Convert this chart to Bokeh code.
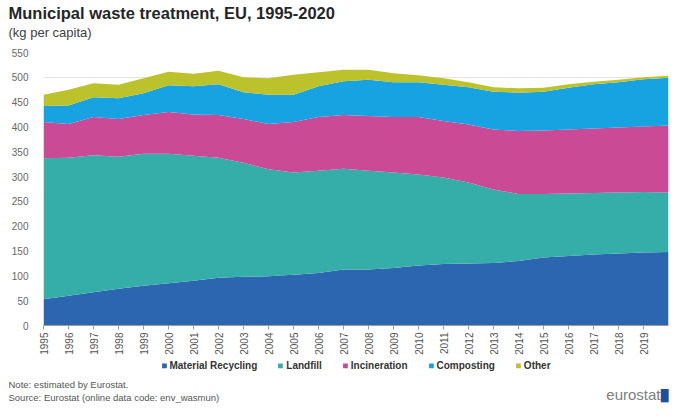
import math
from bokeh.plotting import figure
from bokeh.layouts import column
from bokeh.models import Legend, LegendItem, Title, FixedTicker, Range1d
from bokeh.embed import file_html
from bokeh.resources import INLINE

years = list(range(1995, 2021))
tick_years = list(range(1995, 2020))
material_recycling = [53, 60, 67, 74, 80, 85, 90, 96, 98, 99, 102, 106, 113, 113, 116, 121, 124, 125, 126, 130, 137, 140, 143, 145, 147, 148]
landfill = [284, 278, 276, 266, 266, 261, 252, 242, 230, 216, 206, 206, 203, 199, 192, 183, 174, 163, 148, 135, 128, 126, 124, 123, 122, 120]
incineration = [73, 68, 77, 76, 78, 84, 83, 86, 88, 91, 102, 108, 108, 110, 112, 116, 114, 117, 121, 127, 128, 129, 130, 131, 132, 135]
composting = [32, 37, 40, 42, 44, 54, 57, 62, 54, 59, 55, 62, 68, 73, 70, 70, 73, 75, 76, 77, 78, 84, 89, 91, 95, 96]
other = [23, 32, 28, 27, 30, 27, 25, 27, 30, 33, 40, 28, 23, 20, 18, 14, 13, 10, 9, 9, 8, 7, 5, 5, 4, 4]

series_names = ["Material Recycling", "Landfill", "Incineration", "Composting", "Other"]
colors = ["#2d66b0", "#35aea9", "#cb4a96", "#17a2e2", "#bcc22c"]

FONT = "Liberation Sans"
W = 670
H_MAIN, H_FOOT = 357, 47

data = {"year": years}
keys = ["mr", "lf", "inc", "comp", "oth"]
for k, v in zip(keys, [material_recycling, landfill, incineration, composting, other]):
    data[k] = v

# ---------- main chart (with title block above) ----------
p = figure(width=W, height=H_MAIN, output_backend="svg", toolbar_location=None,
           x_range=Range1d(1995, 2020), y_range=Range1d(0, 550),
           min_border_left=43, min_border_right=2, min_border_top=0, min_border_bottom=30)
p.outline_line_color = None

# nearest the frame first: spacer, subtitle; the figure title sits on top
p.add_layout(Title(text=" ", text_font=FONT, text_font_size="8px", standoff=2), "above")
p.add_layout(Title(text="(kg per capita)", text_font=FONT, text_font_size="13px",
                   text_font_style="normal", text_color="#404040", offset=-35,
                   standoff=0), "above")
p.title.text = "Municipal waste treatment, EU, 1995-2020"
p.title.text_font = FONT
p.title.text_font_size = "16.5px"
p.title.text_font_style = "bold"
p.title.text_color = "#262626"
p.title.offset = -35
p.title.standoff = 2

renderers = p.varea_stack(stackers=keys, x="year", color=colors, source=data)

p.xaxis.ticker = FixedTicker(ticks=tick_years)
p.xaxis.major_label_orientation = math.pi / 2
p.xaxis.major_label_text_font = FONT
p.xaxis.major_label_text_font_size = "10px"
p.xaxis.major_label_text_color = "#555555"
p.xaxis.axis_line_color = "#9a9a9a"
p.xaxis.major_tick_line_color = "#9a9a9a"
p.xaxis.major_tick_in = 0
p.xaxis.major_tick_out = 4
p.xaxis.minor_tick_line_color = None
p.xaxis.major_label_standoff = 3

p.yaxis.ticker = FixedTicker(ticks=list(range(0, 551, 50)))
p.yaxis.major_label_text_font = FONT
p.yaxis.major_label_text_font_size = "10px"
p.yaxis.major_label_text_color = "#666666"
p.yaxis.axis_line_color = None
p.yaxis.major_tick_line_color = None
p.yaxis.minor_tick_line_color = None
p.yaxis.major_label_standoff = 9

p.xgrid.grid_line_color = None
p.ygrid.grid_line_color = "#e3e3e3"
p.ygrid.level = "underlay"

# ---------- footer: legend in frame, notes + logo as titles below ----------
foot = figure(width=W, height=H_FOOT, output_backend="svg", toolbar_location=None,
              x_range=Range1d(0, 1), y_range=Range1d(0, 1),
              x_axis_location=None, y_axis_location=None,
              min_border_left=43, min_border_right=2, min_border_top=0, min_border_bottom=31)
foot.grid.visible = False
foot.outline_line_color = None

# legend swatches reuse the same series (their x values lie outside this frame's range)
swatches = foot.varea_stack(stackers=keys, x="year", color=colors, source=data)
items = [LegendItem(label=n, renderers=[r]) for n, r in zip(series_names, swatches)]
legend = Legend(items=items, orientation="horizontal", location="center",
                label_text_font=FONT, label_text_font_size="10px", label_text_color="#333333",
                label_text_font_style="bold", label_height=10,
                glyph_width=6, glyph_height=6, label_standoff=3, spacing=20,
                border_line_color=None, background_fill_alpha=0, margin=0, padding=0)
foot.add_layout(legend, "center")

foot.add_layout(Title(text="Note: estimated by Eurostat.", text_font=FONT, text_font_size="9.5px",
                      text_font_style="normal", text_color="#555555", offset=-35,
                      standoff=6), "below")
foot.add_layout(Title(text="eurostat", text_font=FONT, text_font_size="15px",
                      text_font_style="normal", text_color="#808080", align="right",
                      offset=8, standoff=-18), "below")
foot.add_layout(Title(text="\u2588", text_font=FONT, text_font_size="11px",
                      text_font_style="normal", text_color="#1f4e9c", align="right",
                      offset=0, standoff=-14), "below")
foot.add_layout(Title(text="Source: Eurostat (online data code: env_wasmun)", text_font=FONT,
                      text_font_size="9.5px", text_font_style="normal", text_color="#555555",
                      offset=-35, standoff=-8), "below")

layout = column(p, foot, spacing=0)
open("out.html", "w").write(file_html(layout, INLINE))
